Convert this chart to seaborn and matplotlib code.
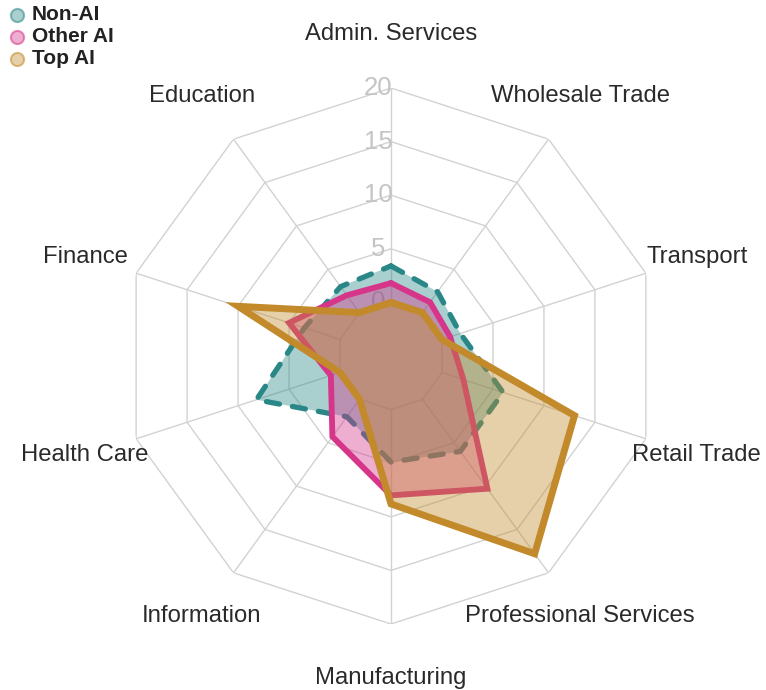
import numpy as np
import pandas as pd
import matplotlib
matplotlib.use("Agg")
import matplotlib.pyplot as plt
import seaborn as sns
from matplotlib.colors import to_rgba

# ---- data ----
categories = ["Admin. Services", "Wholesale Trade", "Transport", "Retail Trade",
              "Professional Services", "Manufacturing", "Information",
              "Health Care", "Finance", "Education"]
non_ai = [3.4, 2.4, 1.8, 6.0, 6.0, 4.9, 2.0, 8.2, 3.5, 3.0]
other_ai = [1.8, 1.2, 0.8, 2.1, 10.3, 8.0, 4.3, 0.9, 5.0, 2.0]
top_ai = [0.0, 0.0, 0.0, 13.0, 17.8, 8.8, 0.0, 0.0, 10.0, 0.0]
series_names = ["Non-AI", "Other AI", "Top AI"]
radial_ticks = [0, 5, 10, 15, 20]

colors = {"Non-AI": "#2a8787", "Other AI": "#d6358a", "Top AI": "#c28a2a"}
styles = {"Non-AI": dict(lw=3.8, ls=(0, (2.5, 2.5))),
          "Other AI": dict(lw=4.2, ls="-"),
          "Top AI": dict(lw=5.0, ls="-")}

sns.set_theme(style="white")
plt.rcParams["font.family"] = ["Liberation Sans", "DejaVu Sans"]

W, H = 766, 690
fig = plt.figure(figsize=(W / 100, H / 100), dpi=100)
cx, cy, R = 391, 356, 268
ax = fig.add_axes([(cx - R) / W, (H - cy - R) / H, 2 * R / W, 2 * R / H],
                  projection="polar")
ax.set_theta_zero_location("N")
ax.set_theta_direction(-1)
ax.set_ylim(-5, 20)
ax.grid(False)
ax.set_xticks([])
ax.set_yticks([])
ax.spines["polar"].set_visible(False)
ax.patch.set_alpha(0)

n = len(categories)
theta = np.linspace(0, 2 * np.pi, n, endpoint=False)
theta_c = np.append(theta, 2 * np.pi)

# polygonal grid
grid_col = "#d2d2d2"
for v in radial_ticks:
    ax.plot(theta_c, [v] * (n + 1), color=grid_col, lw=1.0, zorder=0.5)
for th in theta:
    ax.plot([th, th], [0, 20], color=grid_col, lw=1.0, zorder=0.5)

# radial tick labels
from matplotlib.transforms import ScaledTranslation
off = ScaledTranslation(-13 / 100, 0, fig.dpi_scale_trans)
for v in radial_ticks:
    ax.text(0, v, str(v), ha="center", va="center", fontsize=18.5,
            color="#c4c4c4", transform=ax.transData + off, zorder=0.6)

# category labels
for th, lab in zip(theta, categories):
    ax.text(th, 25.0, lab, ha="center", va="center", fontsize=17.2,
            color="#2a2a2a", clip_on=False)

# data
series_vals = {"Non-AI": non_ai, "Other AI": other_ai, "Top AI": top_ai}
z = 2
for name in series_names:
    vals = series_vals[name]
    r_c = np.append(vals, vals[0])
    df = pd.DataFrame({"theta": theta_c, "r": r_c})
    c = colors[name]
    ax.fill(theta_c, r_c, color=to_rgba(c, 0.4), lw=0, zorder=z)
    sns.lineplot(data=df, x="theta", y="r", ax=ax, sort=False, estimator=None,
                 color=c, linewidth=styles[name]["lw"], linestyle=styles[name]["ls"],
                 dash_capstyle="round", solid_joinstyle="miter", zorder=z + 0.5)
    z += 1
ax.set_xlabel("")
ax.set_ylabel("")
ax.set_ylim(-5, 20)

# legend (top-left)
lax = fig.add_axes([0, 0, 1, 1])
lax.set_xlim(0, W)
lax.set_ylim(H, 0)
lax.axis("off")
lax.patch.set_alpha(0)
for i, name in enumerate(series_names):
    y = 15 + 22 * i
    c = colors[name]
    lax.scatter([17], [y], s=90, facecolor=to_rgba(c, 0.4),
                edgecolor=to_rgba(c, 0.55), linewidth=1.5)
    lax.text(32, y, name, ha="left", va="center", fontsize=15, fontweight="bold",
             color="#222222")

fig.savefig("out.png", dpi=100)
